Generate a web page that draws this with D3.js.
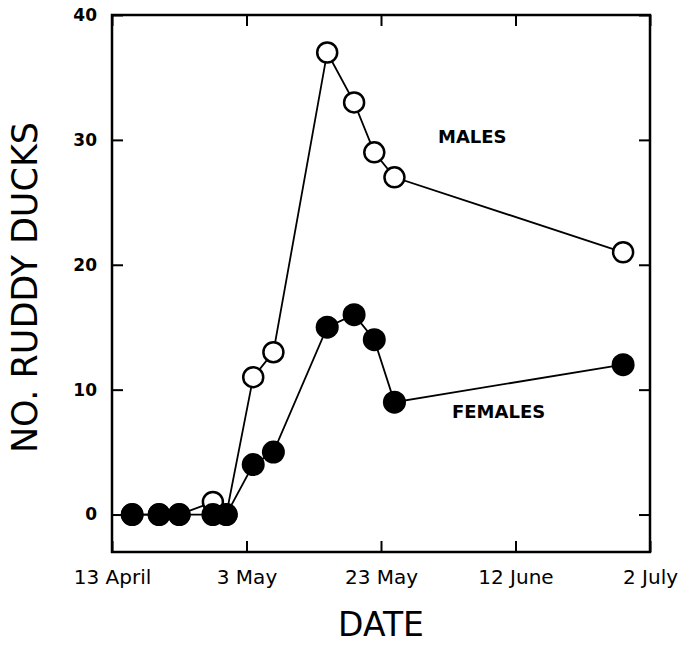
<!DOCTYPE html>
<html>
<head>
<meta charset="utf-8">
<script src="https://cdn.jsdelivr.net/npm/d3@7"></script>
<style>
  body { margin: 0; background: #fff; }
  svg { display: block; }
</style>
</head>
<body>
<script>
// survey dates and counts
const surveyDates = ['1985-04-16', '1985-04-20', '1985-04-23', '1985-04-28', '1985-04-30',
  '1985-05-04', '1985-05-07', '1985-05-15', '1985-05-19', '1985-05-22', '1985-05-25', '1985-06-28'];
const males = [0, 0, 0, 1, 0, 11, 13, 37, 33, 29, 27, 21];
const females = [0, 0, 0, 0, 0, 4, 5, 15, 16, 14, 9, 12];

const tickDates = ['1985-04-13', '1985-05-03', '1985-05-23', '1985-06-12', '1985-07-02'];
const tickLabels = ['13 April', '3 May', '23 May', '12 June', '2 July'];
const yTicks = [0, 10, 20, 30, 40];

const parse = d3.timeParse('%Y-%m-%d');
const width = 684, height = 648;
const m = { left: 112, right: 650, top: 15, bottom: 552 };

const svg = d3.select(document.body)
  .append('svg')
  .attr('width', width)
  .attr('height', height);

const x = d3.scaleTime()
  .domain([parse(tickDates[0]), parse(tickDates[4])])
  .range([m.left, m.right]);

const y = d3.scaleLinear()
  .domain([-3, 40])
  .range([m.bottom, m.top]);

const xTickVals = tickDates.map(parse);
const labelOf = d => tickLabels[xTickVals.findIndex(t => +t === +d)];

// bottom axis with labels
const gx = svg.append('g')
  .attr('transform', `translate(0,${m.bottom})`)
  .call(d3.axisBottom(x).tickValues(xTickVals).tickSize(-11).tickPadding(18).tickFormat(labelOf));
gx.select('.domain').remove();
gx.selectAll('text')
  .style('font-family', 'DejaVu Sans')
  .style('font-size', '20px')
  .attr('fill', '#000');

// top axis
const gt = svg.append('g')
  .attr('transform', `translate(0,${m.top})`)
  .call(d3.axisTop(x).tickValues(xTickVals).tickSize(-11).tickFormat(''));
gt.select('.domain').remove();

// left axis
const gy = svg.append('g')
  .attr('transform', `translate(${m.left},0)`)
  .call(d3.axisLeft(y).tickValues(yTicks).tickSize(-11).tickPadding(15));
gy.select('.domain').remove();
gy.selectAll('text')
  .style('font-family', 'DejaVu Sans')
  .style('font-weight', 'bold')
  .style('font-size', '17px')
  .attr('fill', '#000');

// right axis
const gr = svg.append('g')
  .attr('transform', `translate(${m.right},0)`)
  .call(d3.axisRight(y).tickValues(yTicks).tickSize(-11).tickFormat(''));
gr.select('.domain').remove();

svg.selectAll('.tick line')
  .attr('stroke', '#000')
  .attr('stroke-width', 2);

// frame
svg.append('rect')
  .attr('x', m.left)
  .attr('y', m.top)
  .attr('width', m.right - m.left)
  .attr('height', m.bottom - m.top)
  .attr('fill', 'none')
  .attr('stroke', '#000')
  .attr('stroke-width', 2.5);

const pts = vals => vals.map((v, i) => ({ date: parse(surveyDates[i]), v }));
const line = d3.line()
  .x(d => x(d.date))
  .y(d => y(d.v));

// males: open circles
svg.append('path')
  .datum(pts(males))
  .attr('d', line)
  .attr('fill', 'none')
  .attr('stroke', '#000')
  .attr('stroke-width', 1.8);

svg.append('g')
  .selectAll('circle')
  .data(pts(males))
  .enter()
  .append('circle')
  .attr('cx', d => x(d.date))
  .attr('cy', d => y(d.v))
  .attr('r', 10)
  .attr('fill', '#fff')
  .attr('stroke', '#000')
  .attr('stroke-width', 2.5);

// females: filled circles
svg.append('path')
  .datum(pts(females))
  .attr('d', line)
  .attr('fill', 'none')
  .attr('stroke', '#000')
  .attr('stroke-width', 1.8);

svg.append('g')
  .selectAll('circle')
  .data(pts(females))
  .enter()
  .append('circle')
  .attr('cx', d => x(d.date))
  .attr('cy', d => y(d.v))
  .attr('r', 11.5)
  .attr('fill', '#000');

// series labels
svg.append('text')
  .attr('x', 438)
  .attr('y', 143)
  .style('font-family', 'DejaVu Sans')
  .style('font-weight', 'bold')
  .style('font-size', '18px')
  .text('MALES');

svg.append('text')
  .attr('x', 452)
  .attr('y', 418)
  .style('font-family', 'DejaVu Sans')
  .style('font-weight', 'bold')
  .style('font-size', '18px')
  .text('FEMALES');

// axis titles
svg.append('text')
  .attr('x', (m.left + m.right) / 2)
  .attr('y', 636)
  .attr('text-anchor', 'middle')
  .style('font-family', 'DejaVu Sans')
  .style('font-size', '33px')
  .text('DATE');

svg.append('text')
  .attr('transform', `translate(37,${(m.top + m.bottom) / 2 + 4}) rotate(-90)`)
  .attr('text-anchor', 'middle')
  .style('font-family', 'DejaVu Sans')
  .style('font-size', '35px')
  .text('NO. RUDDY DUCKS');
</script>
</body>
</html>
